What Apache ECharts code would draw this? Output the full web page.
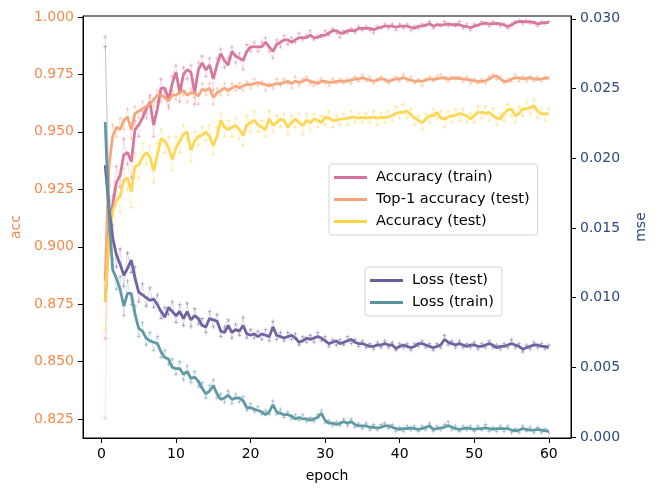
<!DOCTYPE html>
<html lang="en">
<head>
	<meta charset="UTF-8">
	<title>acc / mse per epoch</title>
	<script src="https://cdn.jsdelivr.net/npm/echarts@6/dist/echarts.min.js"></script>
	<style>
		html, body { margin: 0; padding: 0; background: #fff; }
		#chart { width: 656px; height: 488px; }
	</style>
</head>
<body>
	<div id="chart"></div>
	<script>
		// sampling grid: one point every half epoch, 0.5 .. 60
		var epochs = [];
		for (var i = 1; i <= 120; i++) epochs.push(i * 0.5);

		var xTicks = [0, 10, 20, 30, 40, 50, 60];
		var accTicks = [0.825, 0.850, 0.875, 0.900, 0.925, 0.950, 0.975, 1.000];
		var mseTicks = [0, 0.005, 0.010, 0.015, 0.020, 0.025, 0.030];

		// ---- smoothed curves (thick lines) ----
		var accTrain = [
			0.876, 0.905, 0.918, 0.928, 0.931, 0.940, 0.941, 0.937, 0.951, 0.953,
			0.956, 0.960, 0.963, 0.953, 0.960, 0.969, 0.969, 0.964, 0.971, 0.976,
			0.967, 0.975, 0.977, 0.976, 0.967, 0.977, 0.980, 0.977, 0.979, 0.973,
			0.979, 0.984, 0.981, 0.979, 0.985, 0.983, 0.982, 0.981, 0.985, 0.987,
			0.987, 0.987, 0.987, 0.989, 0.987, 0.985, 0.988, 0.989, 0.990, 0.990,
			0.989, 0.990, 0.991, 0.991, 0.991, 0.992, 0.991, 0.991, 0.992, 0.992,
			0.993, 0.994, 0.994, 0.993, 0.993, 0.994, 0.994, 0.994, 0.995, 0.995,
			0.995, 0.995, 0.9945, 0.995, 0.9955, 0.996, 0.996, 0.996, 0.9955, 0.996,
			0.996, 0.996, 0.9955, 0.995, 0.996, 0.996, 0.9965, 0.997, 0.996, 0.9965,
			0.9965, 0.9966, 0.997, 0.9965, 0.9967, 0.9966, 0.996, 0.9958, 0.9953, 0.996,
			0.9965, 0.997, 0.9973, 0.997, 0.997, 0.9972, 0.997, 0.9965, 0.9958, 0.9965,
			0.9975, 0.998, 0.998, 0.9978, 0.998, 0.9975, 0.997, 0.9973, 0.9975, 0.9976
		];
		var top1Test = [
			0.885, 0.935, 0.948, 0.952, 0.951, 0.955, 0.9565, 0.951, 0.958, 0.959,
			0.960, 0.961, 0.962, 0.964, 0.966, 0.966, 0.965, 0.9635, 0.966, 0.966,
			0.967, 0.968, 0.966, 0.967, 0.967, 0.9656, 0.9685, 0.968, 0.969, 0.965,
			0.967, 0.968, 0.969, 0.968, 0.969, 0.970, 0.969, 0.970, 0.9707, 0.9705,
			0.971, 0.9714, 0.971, 0.9705, 0.970, 0.9705, 0.971, 0.971, 0.9715, 0.972,
			0.971, 0.972, 0.9715, 0.972, 0.9728, 0.972, 0.9715, 0.971, 0.972, 0.972,
			0.9715, 0.9715, 0.972, 0.972, 0.9722, 0.972, 0.9725, 0.973, 0.973, 0.9736,
			0.973, 0.9725, 0.972, 0.9725, 0.973, 0.9728, 0.972, 0.9725, 0.973, 0.973,
			0.9736, 0.973, 0.9725, 0.972, 0.9722, 0.972, 0.9725, 0.973, 0.9728, 0.973,
			0.9735, 0.9736, 0.973, 0.9733, 0.9735, 0.9732, 0.973, 0.9728, 0.9725, 0.9722,
			0.972, 0.972, 0.9722, 0.973, 0.974, 0.9743, 0.973, 0.972, 0.972, 0.973,
			0.9735, 0.9735, 0.973, 0.9733, 0.9735, 0.973, 0.9728, 0.973, 0.9733, 0.9736
		];
		var accTest = [
			0.876, 0.903, 0.9155, 0.920, 0.922, 0.929, 0.930, 0.924, 0.935, 0.9355,
			0.939, 0.941, 0.939, 0.933, 0.940, 0.947, 0.946, 0.943, 0.938, 0.943,
			0.946, 0.949, 0.950, 0.942, 0.946, 0.948, 0.9485, 0.950, 0.948, 0.944,
			0.948, 0.955, 0.952, 0.951, 0.952, 0.9527, 0.951, 0.9484, 0.953, 0.954,
			0.955, 0.953, 0.952, 0.951, 0.9556, 0.953, 0.954, 0.9555, 0.955, 0.952,
			0.954, 0.9556, 0.954, 0.9527, 0.955, 0.954, 0.9556, 0.955, 0.954, 0.9563,
			0.956, 0.955, 0.955, 0.9555, 0.9556, 0.956, 0.9563, 0.9563, 0.956, 0.9563,
			0.956, 0.9563, 0.9563, 0.956, 0.9563, 0.9563, 0.9565, 0.957, 0.958, 0.9585,
			0.9585, 0.959, 0.9575, 0.956, 0.955, 0.954, 0.9555, 0.957, 0.957, 0.9585,
			0.956, 0.9556, 0.9565, 0.957, 0.9572, 0.958, 0.9575, 0.957, 0.9556, 0.957,
			0.9585, 0.9585, 0.958, 0.9585, 0.957, 0.956, 0.9556, 0.958, 0.9595, 0.960,
			0.957, 0.958, 0.960, 0.960, 0.9605, 0.9613, 0.959, 0.9578, 0.9578, 0.9578
		];
		var lossTest = [
			0.0195, 0.0165, 0.0143, 0.0131, 0.0124, 0.0116, 0.0121, 0.0127, 0.0114, 0.0104,
			0.0102, 0.0100, 0.0098, 0.0099, 0.0095, 0.0090, 0.0086, 0.0093, 0.0090, 0.0087,
			0.0090, 0.0085, 0.0090, 0.0084, 0.0087, 0.0085, 0.0080, 0.0079, 0.0085, 0.0084,
			0.0083, 0.0076, 0.0075, 0.0080, 0.0075, 0.0077, 0.0076, 0.0080, 0.0074, 0.0073,
			0.0074, 0.0072, 0.0074, 0.0073, 0.0072, 0.0079, 0.0073, 0.0072, 0.0071, 0.0072,
			0.0073, 0.0071, 0.0068, 0.0069, 0.0071, 0.0070, 0.0071, 0.0072, 0.0071, 0.0069,
			0.0067, 0.0068, 0.0069, 0.0067, 0.0068, 0.0069, 0.0070, 0.0068, 0.0067, 0.0067,
			0.0066, 0.0065, 0.0065, 0.0066, 0.0066, 0.0067, 0.0066, 0.0066, 0.00635, 0.0065,
			0.0066, 0.0065, 0.0064, 0.0065, 0.0067, 0.0067, 0.0066, 0.0065, 0.0064, 0.0065,
			0.0066, 0.0070, 0.0068, 0.0067, 0.0066, 0.0067, 0.0066, 0.0065, 0.0066, 0.0066,
			0.0065, 0.0065, 0.0066, 0.0067, 0.0066, 0.0064, 0.0065, 0.0065, 0.0066, 0.0067,
			0.0066, 0.0065, 0.0063, 0.0064, 0.0065, 0.0066, 0.0066, 0.0065, 0.0065, 0.0064
		];
		var lossTrain = [
			0.0226, 0.0160, 0.0120, 0.0114, 0.0106, 0.0094, 0.0103, 0.0103, 0.0088, 0.0078,
			0.0076, 0.0071, 0.0069, 0.0068, 0.0067, 0.0061, 0.0057, 0.0056, 0.0050, 0.0049,
			0.0049, 0.0045, 0.0047, 0.0042, 0.0043, 0.0040, 0.0035, 0.0031, 0.0033, 0.0037,
			0.0031, 0.0027, 0.0028, 0.0030, 0.0027, 0.0028, 0.0028, 0.0026, 0.0021, 0.0021,
			0.0020, 0.0019, 0.0018, 0.0016, 0.0018, 0.0023, 0.0018, 0.0017, 0.0016, 0.0016,
			0.0015, 0.0013, 0.0014, 0.0013, 0.0013, 0.0012, 0.0013, 0.0014, 0.0017, 0.0012,
			0.0010, 0.0010, 0.0009, 0.0010, 0.0011, 0.0010, 0.0011, 0.0009, 0.0008, 0.0008,
			0.0008, 0.0007, 0.0007, 0.00066, 0.0007, 0.0008, 0.0008, 0.0007, 0.0006, 0.00055,
			0.0006, 0.0006, 0.00066, 0.0006, 0.00055, 0.0006, 0.0007, 0.0008, 0.00055, 0.0006,
			0.00066, 0.0007, 0.00083, 0.0007, 0.0006, 0.00055, 0.0006, 0.00066, 0.0006, 0.00055,
			0.0006, 0.0006, 0.00066, 0.0006, 0.00055, 0.0006, 0.0006, 0.0006, 0.0006, 0.0005,
			0.00045, 0.0005, 0.0006, 0.00055, 0.0005, 0.0005, 0.00055, 0.0005, 0.00045, 0.00043
		];

		// ---- raw measurements (faint lines with + markers) ----
		var accTrainRaw = [
			0.860, 0.912, 0.922, 0.935, 0.926, 0.947, 0.936, 0.930, 0.955, 0.948,
			0.959, 0.956, 0.966, 0.948, 0.963, 0.973, 0.965, 0.961, 0.974, 0.979,
			0.963, 0.978, 0.973, 0.979, 0.962, 0.980, 0.983, 0.974, 0.982, 0.968,
			0.982, 0.986, 0.978, 0.982, 0.987, 0.980, 0.984, 0.977, 0.988, 0.985,
			0.989, 0.985, 0.989, 0.991, 0.985, 0.982, 0.990, 0.987, 0.992, 0.988,
			0.991, 0.989, 0.993, 0.990, 0.992, 0.994, 0.990, 0.992, 0.991, 0.994,
			0.992, 0.995, 0.993, 0.991, 0.994, 0.993, 0.995, 0.993, 0.996, 0.994,
			0.996, 0.994, 0.993, 0.996, 0.995, 0.997, 0.995, 0.997, 0.994, 0.997,
			0.995, 0.997, 0.994, 0.996, 0.995, 0.997, 0.996, 0.998, 0.995, 0.997,
			0.996, 0.998, 0.996, 0.997, 0.996, 0.998, 0.995, 0.997, 0.994, 0.997,
			0.996, 0.998, 0.997, 0.996, 0.998, 0.997, 0.996, 0.997, 0.995, 0.997,
			0.998, 0.9985, 0.997, 0.9985, 0.997, 0.998, 0.996, 0.998, 0.997, 0.998
		];
		var top1TestRaw = [
			0.8255, 0.928, 0.953, 0.948, 0.956, 0.951, 0.960, 0.947, 0.961, 0.956,
			0.963, 0.958, 0.965, 0.961, 0.968, 0.963, 0.968, 0.960, 0.968, 0.964,
			0.970, 0.966, 0.963, 0.969, 0.965, 0.962, 0.971, 0.966, 0.971, 0.962,
			0.969, 0.966, 0.971, 0.966, 0.971, 0.968, 0.971, 0.968, 0.972, 0.969,
			0.973, 0.970, 0.972, 0.968, 0.971, 0.969, 0.973, 0.970, 0.973, 0.971,
			0.969, 0.974, 0.970, 0.973, 0.974, 0.971, 0.970, 0.972, 0.973, 0.971,
			0.970, 0.973, 0.971, 0.973, 0.971, 0.973, 0.971, 0.974, 0.972, 0.975,
			0.972, 0.974, 0.971, 0.973, 0.974, 0.972, 0.971, 0.973, 0.974, 0.972,
			0.975, 0.972, 0.974, 0.971, 0.973, 0.970, 0.973, 0.974, 0.972, 0.974,
			0.975, 0.973, 0.972, 0.974, 0.973, 0.974, 0.972, 0.974, 0.971, 0.973,
			0.971, 0.973, 0.971, 0.974, 0.975, 0.973, 0.974, 0.971, 0.973, 0.972,
			0.975, 0.972, 0.974, 0.972, 0.974, 0.972, 0.974, 0.972, 0.974, 0.973
		];
		var accTestRaw = [
			0.864, 0.912, 0.908, 0.926, 0.915, 0.934, 0.925, 0.917, 0.941, 0.930,
			0.945, 0.936, 0.944, 0.928, 0.945, 0.951, 0.941, 0.948, 0.933, 0.948,
			0.941, 0.953, 0.946, 0.937, 0.950, 0.944, 0.952, 0.946, 0.953, 0.940,
			0.952, 0.958, 0.948, 0.955, 0.948, 0.956, 0.947, 0.944, 0.957, 0.950,
			0.959, 0.950, 0.955, 0.948, 0.959, 0.950, 0.957, 0.952, 0.958, 0.949,
			0.957, 0.952, 0.958, 0.949, 0.958, 0.951, 0.958, 0.952, 0.957, 0.953,
			0.959, 0.952, 0.957, 0.953, 0.958, 0.953, 0.959, 0.954, 0.958, 0.954,
			0.958, 0.954, 0.959, 0.953, 0.958, 0.954, 0.959, 0.955, 0.961, 0.956,
			0.962, 0.956, 0.960, 0.953, 0.957, 0.951, 0.958, 0.954, 0.960, 0.956,
			0.959, 0.952, 0.959, 0.954, 0.960, 0.955, 0.960, 0.954, 0.958, 0.954,
			0.961, 0.956, 0.961, 0.955, 0.960, 0.953, 0.958, 0.955, 0.962, 0.957,
			0.954, 0.961, 0.957, 0.963, 0.958, 0.964, 0.956, 0.960, 0.955, 0.960
		];
		var lossTestRaw = [
			0.0280, 0.0180, 0.0152, 0.0122, 0.0135, 0.0108, 0.0132, 0.0118, 0.0122, 0.0097,
			0.0110, 0.0094, 0.0107, 0.0093, 0.0102, 0.0085, 0.0093, 0.0088, 0.0097, 0.0082,
			0.0095, 0.0080, 0.0096, 0.0079, 0.0092, 0.0081, 0.0085, 0.0075, 0.0090, 0.0079,
			0.0088, 0.0072, 0.0079, 0.0084, 0.0071, 0.0081, 0.0073, 0.0086, 0.0071, 0.0077,
			0.0071, 0.0076, 0.0070, 0.0077, 0.0069, 0.0083, 0.0070, 0.0075, 0.0069, 0.0075,
			0.0070, 0.0074, 0.0066, 0.0072, 0.0068, 0.0073, 0.0068, 0.0075, 0.0069, 0.0072,
			0.0065, 0.0070, 0.0066, 0.0070, 0.0066, 0.0072, 0.0067, 0.0070, 0.0065, 0.0069,
			0.0064, 0.0067, 0.0063, 0.0068, 0.0064, 0.0069, 0.0064, 0.0068, 0.0062, 0.0067,
			0.0064, 0.0067, 0.0062, 0.0067, 0.0065, 0.0069, 0.0064, 0.0067, 0.0062, 0.0067,
			0.0064, 0.0073, 0.0066, 0.0069, 0.0064, 0.0069, 0.0064, 0.0067, 0.0064, 0.0068,
			0.0063, 0.0067, 0.0064, 0.0069, 0.0064, 0.0066, 0.0063, 0.0067, 0.0064, 0.0070,
			0.0064, 0.0067, 0.0061, 0.0066, 0.0063, 0.0068, 0.0064, 0.0067, 0.0063, 0.0066
		];
		var lossTrainRaw = [
			0.0287, 0.0170, 0.0128, 0.0106, 0.0115, 0.0087, 0.0112, 0.0095, 0.0094, 0.0072,
			0.0082, 0.0066, 0.0075, 0.0062, 0.0072, 0.0057, 0.0062, 0.0052, 0.0056, 0.0045,
			0.0054, 0.0041, 0.0051, 0.0039, 0.0047, 0.0036, 0.0039, 0.0028, 0.0037, 0.0041,
			0.0028, 0.0031, 0.0025, 0.0033, 0.0024, 0.0031, 0.0025, 0.0029, 0.0019, 0.0024,
			0.0018, 0.0022, 0.0016, 0.0019, 0.0016, 0.0026, 0.0016, 0.0020, 0.0014, 0.0018,
			0.0013, 0.0016, 0.0012, 0.0016, 0.0011, 0.0014, 0.0011, 0.0016, 0.0019, 0.0010,
			0.0012, 0.0008, 0.0011, 0.0008, 0.0013, 0.0008, 0.0013, 0.0007, 0.0010, 0.0006,
			0.0010, 0.0005, 0.0009, 0.0005, 0.0009, 0.0010, 0.0006, 0.0009, 0.0004, 0.0007,
			0.0004, 0.0008, 0.0005, 0.0008, 0.0004, 0.0008, 0.0005, 0.0010, 0.0004, 0.0008,
			0.0005, 0.0009, 0.0011, 0.0005, 0.0008, 0.0004, 0.0008, 0.0005, 0.0008, 0.0004,
			0.0008, 0.0005, 0.0009, 0.0004, 0.0007, 0.0004, 0.0008, 0.0004, 0.0008, 0.0003,
			0.0006, 0.0003, 0.0008, 0.0004, 0.0007, 0.0003, 0.0007, 0.0003, 0.0006, 0.0003
		];

		var FONT = 'DejaVu Sans';
		var ORANGE = '#f4894b';  // left axis text
		var NAVY = '#2c4a7e';    // right axis text
		var PLUS = 'path://M4,0h2v4h4v2h-4v4h-2v-4h-4v-2h4z';

		function pairs(vals) {
			return epochs.map(function(e, i){ return [e, vals[i]]; });
		}
		function thick(name, vals, color, yIdx) {
			return {
				name: name, type: 'line', yAxisIndex: yIdx, data: pairs(vals),
				showSymbol: false, symbol: 'none', z: 4,
				lineStyle: { color: color, width: 2.8, opacity: 0.95 },
				itemStyle: { color: color }
			};
		}
		function raw(name, vals, color, yIdx) {
			return {
				name: name + ' raw', type: 'line', yAxisIndex: yIdx, data: pairs(vals),
				symbol: PLUS, symbolSize: 4, z: 2,
				lineStyle: { color: color, width: 0.7, opacity: 0.35 },
				itemStyle: { color: color, opacity: 0.55 }
			};
		}

		var cPink = '#d5719a', cOrange = '#f7a277', cYellow = '#fdd54c';
		var cPurple = '#6b5b9e', cTeal = '#5893a2';

		var legendBase = {
			orient: 'vertical', icon: 'rect', itemWidth: 33, itemHeight: 3, itemGap: 7,
			borderColor: '#d4d4d4', borderWidth: 1, borderRadius: 3,
			backgroundColor: 'rgba(255,255,255,0.85)',
			padding: [6, 8, 6, 5],
			textStyle: { fontFamily: FONT, fontSize: 14.6, color: '#000', padding: [0, 0, 0, 4] }
		};

		var chart = echarts.init(document.getElementById('chart'));
		chart.setOption({
			animation: false,
			textStyle: { fontFamily: FONT },
			grid: { left: 83, right: 73, top: 16, bottom: 46, show: true, borderColor: '#000', borderWidth: 1, backgroundColor: 'transparent' },
			legend: [
				Object.assign({}, legendBase, { left: 329, top: 164, data: ['Accuracy (train)', 'Top-1 accuracy (test)', 'Accuracy (test)'] }),
				Object.assign({}, legendBase, { left: 365, top: 267, data: ['Loss (test)', 'Loss (train)'] })
			],
			xAxis: {
				type: 'value', min: -2.475, max: 62.975,
				name: 'epoch', nameLocation: 'middle', nameGap: 31,
				nameTextStyle: { fontFamily: FONT, fontSize: 14, color: '#000' },
				axisLine: { show: true, onZero: false, lineStyle: { color: '#000', width: 1 } },
				axisTick: { show: true, customValues: xTicks, length: 5, lineStyle: { color: '#000' } },
				axisLabel: { customValues: xTicks, margin: 9, fontSize: 14, color: '#000', fontFamily: FONT },
				splitLine: { show: false }
			},
			yAxis: [
				{
					type: 'value', position: 'left', min: 0.8168, max: 1.0004,
					name: 'acc', nameLocation: 'middle', nameGap: 60, nameRotate: 90,
					nameTextStyle: { fontFamily: FONT, fontSize: 14, color: ORANGE },
					axisLine: { show: true, onZero: false, lineStyle: { color: '#000', width: 1 } },
					axisTick: { show: true, customValues: accTicks, length: 5, lineStyle: { color: '#000' } },
					axisLabel: { customValues: accTicks, margin: 9, fontSize: 14, color: ORANGE, fontFamily: FONT,
						formatter: function(v){ return v.toFixed(3); } },
					splitLine: { show: false }
				},
				{
					type: 'value', position: 'right', min: -0.00007, max: 0.0302,
					name: 'mse', nameLocation: 'middle', nameGap: 63, nameRotate: 90,
					nameTextStyle: { fontFamily: FONT, fontSize: 14, color: NAVY },
					axisLine: { show: true, onZero: false, lineStyle: { color: '#000', width: 1 } },
					axisTick: { show: true, customValues: mseTicks, length: 5, lineStyle: { color: '#000' } },
					axisLabel: { customValues: mseTicks, margin: 9, fontSize: 14, color: NAVY, fontFamily: FONT,
						formatter: function(v){ return v.toFixed(3); } },
					splitLine: { show: false }
				}
			],
			series: [
				raw('Accuracy (train)', accTrainRaw, cPink, 0),
				raw('Top-1 accuracy (test)', top1TestRaw, cOrange, 0),
				raw('Accuracy (test)', accTestRaw, cYellow, 0),
				raw('Loss (test)', lossTestRaw, cPurple, 1),
				raw('Loss (train)', lossTrainRaw, cTeal, 1),
				thick('Accuracy (train)', accTrain, cPink, 0),
				thick('Top-1 accuracy (test)', top1Test, cOrange, 0),
				thick('Accuracy (test)', accTest, cYellow, 0),
				thick('Loss (test)', lossTest, cPurple, 1),
				thick('Loss (train)', lossTrain, cTeal, 1)
			]
		});
	</script>
</body>
</html>
